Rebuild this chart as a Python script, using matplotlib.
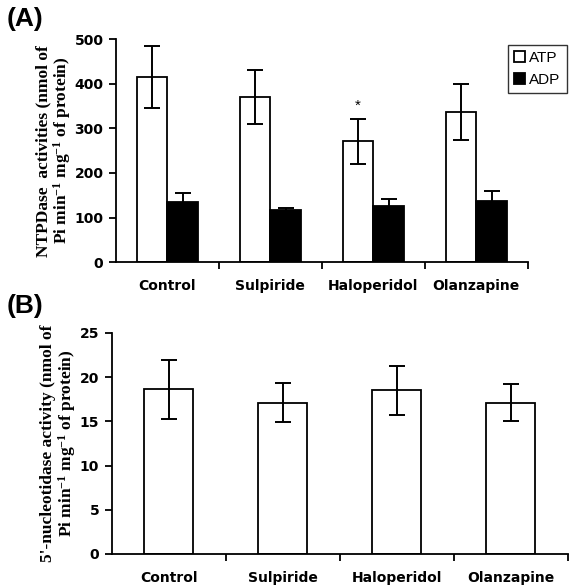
import matplotlib
matplotlib.use("Agg")
import matplotlib.pyplot as plt
import numpy as np

DRUGS = ["Control", "Sulpiride", "Haloperidol", "Olanzapine"]

ATP_MEAN = [415, 370, 271, 336]
ATP_ERR = [70, 60, 50, 63]
ADP_MEAN = [134, 117, 126, 137]
ADP_ERR = [21, 5, 15, 22]

NUC_MEAN = [18.6, 17.1, 18.5, 17.1]
NUC_ERR = [3.3, 2.2, 2.8, 2.1]

SIG_A = ["", "", "*", ""]

SANS = "Liberation Sans"
SERIF = "Liberation Serif"

plt.rcParams["mathtext.fontset"] = "custom"
plt.rcParams["mathtext.rm"] = "Liberation Serif:bold"
plt.rcParams["mathtext.bf"] = "Liberation Serif:bold"
plt.rcParams["mathtext.default"] = "bf"


def style_axis(ax, ymax, ystep):
    n = len(DRUGS)
    ax.set_xlim(0, n)
    ax.set_ylim(0, ymax)
    ax.set_yticks(np.arange(0, ymax + ystep / 2, ystep))
    ax.set_xticks(np.arange(n) + 0.5)
    ax.set_xticklabels(DRUGS)
    ax.set_xticks(np.arange(1, n + 1), minor=True)
    ax.tick_params(axis="x", which="major", length=0, pad=12)
    ax.tick_params(axis="x", which="minor", length=5, width=1.3, direction="out")
    ax.tick_params(axis="y", length=5, width=1.3, direction="out", pad=4)
    for lab in ax.get_xticklabels() + ax.get_yticklabels():
        lab.set_fontfamily("DejaVu Sans")
        lab.set_fontweight("bold")
        lab.set_fontsize(10)
    for s in ("top", "right"):
        ax.spines[s].set_visible(False)
    for s in ("left", "bottom"):
        ax.spines[s].set_linewidth(1.3)


fig = plt.figure(figsize=(5.7, 5.85), dpi=100)

# panel A
axA = fig.add_axes([0.2035, 0.552, 0.7225, 0.381])
x = np.arange(len(DRUGS)) + 0.5
w = 0.295
err_kw = dict(ecolor="black", elinewidth=1.4, capsize=5.5, capthick=1.4)
axA.bar(x - w / 2, ATP_MEAN, w, yerr=ATP_ERR, color="white", edgecolor="black",
        linewidth=1.3, label="ATP", error_kw=err_kw)
axA.bar(x + w / 2, ADP_MEAN, w, yerr=ADP_ERR, color="black", edgecolor="black",
        linewidth=1.3, label="ADP", error_kw=err_kw)
for xi, m, e, s in zip(x, ATP_MEAN, ATP_ERR, SIG_A):
    if s:
        axA.text(xi - w / 2, m + e + 14, s, ha="center", va="bottom",
                 fontsize=11, fontfamily=SANS)
style_axis(axA, 500, 100)
axA.set_ylabel("NTPDase  activities (nmol of\nPi min$^{-1}$ mg$^{-1}$ of protein)",
               fontfamily=SERIF, fontweight="bold", fontsize=12.5, linespacing=1.0,
               labelpad=1)
leg = axA.legend(loc="upper left", bbox_to_anchor=(508 / 570, 1 - 45 / 585),
                 bbox_transform=fig.transFigure, frameon=True, fancybox=False,
                 handlelength=0.7, handleheight=0.7, handletextpad=0.3,
                 borderpad=0.4, labelspacing=0.5, borderaxespad=0,
                 prop={"family": SANS, "size": 11})
leg.get_frame().set_edgecolor("black")
leg.get_frame().set_linewidth(1.0)

# panel B
axB = fig.add_axes([0.196, 0.053, 0.8, 0.378])
wb = 0.43
axB.bar(x, NUC_MEAN, wb, yerr=NUC_ERR, color="white", edgecolor="black",
        linewidth=1.3, error_kw=dict(ecolor="black", elinewidth=1.4, capsize=6, capthick=1.4))
style_axis(axB, 25, 5)
axB.set_ylabel("5'-nucleotidase activity (nmol of\nPi min$^{-1}$ mg$^{-1}$ of protein)",
               fontfamily=SERIF, fontweight="bold", fontsize=12.5, linespacing=1.0,
               labelpad=1)

fig.text(0.012, 0.988, "(A)", fontfamily=SANS, fontweight="bold", fontsize=19,
         ha="left", va="top")
fig.text(0.012, 0.498, "(B)", fontfamily=SANS, fontweight="bold", fontsize=19,
         ha="left", va="top")

fig.savefig("out.png", dpi=100)
